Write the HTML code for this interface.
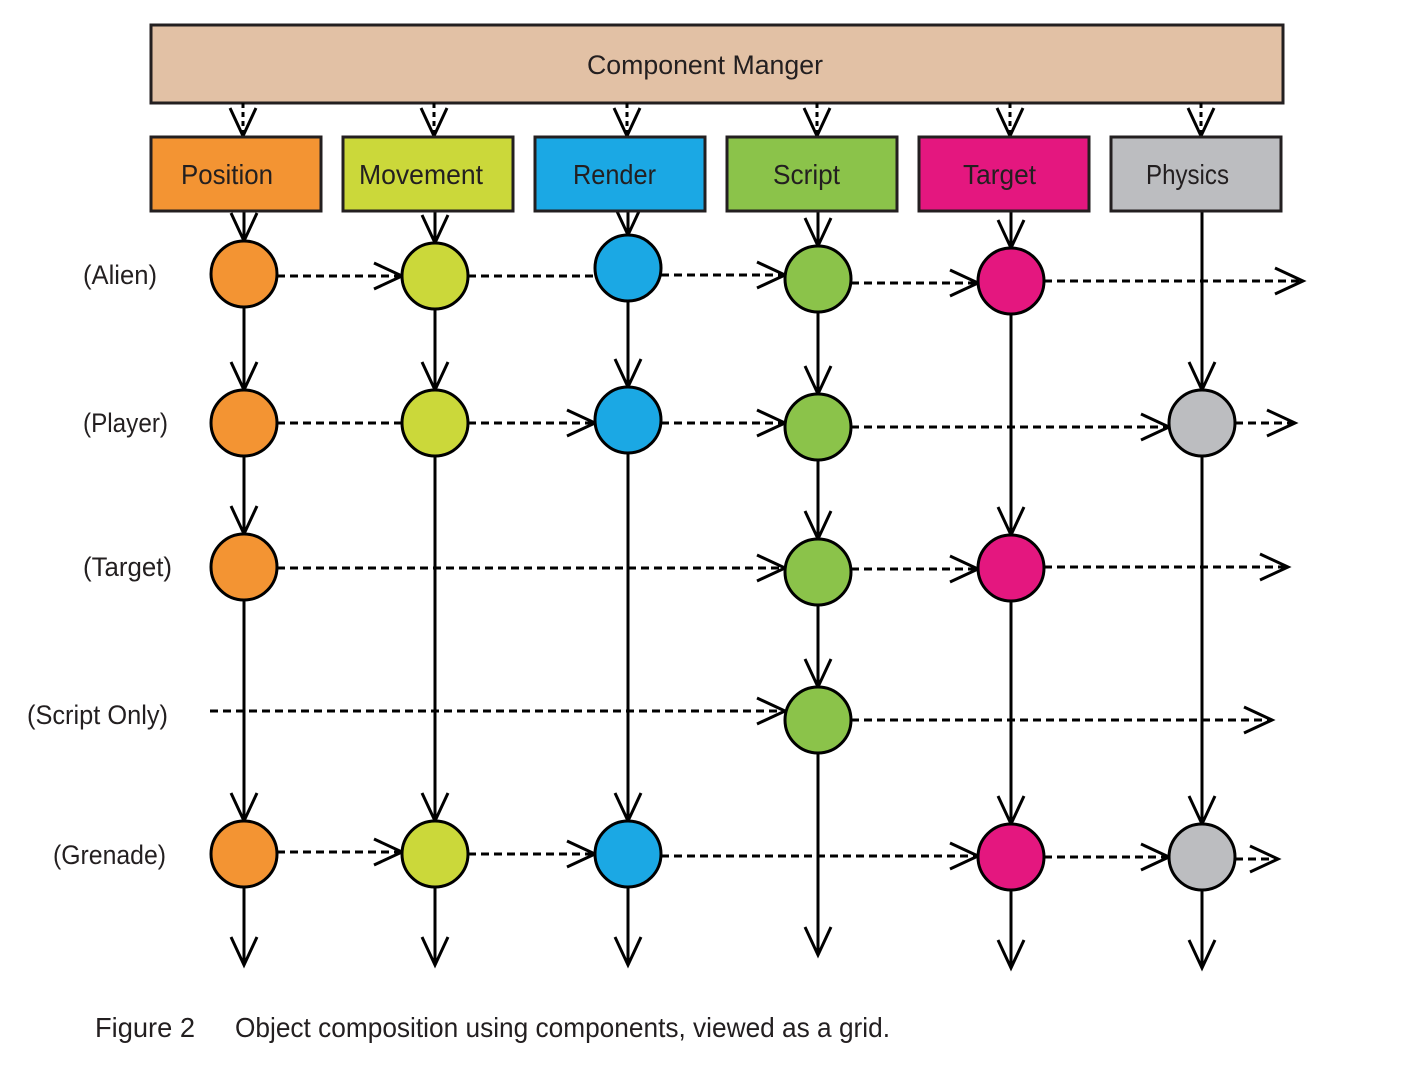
<!DOCTYPE html>
<html><head><meta charset="utf-8">
<style>
html,body{margin:0;padding:0;background:#fff;}
svg{display:block;}
text{font-family:"Liberation Sans Narrow","Liberation Sans",sans-serif;fill:#231f20;}
</style></head>
<body>
<svg id="d" width="1418" height="1086" viewBox="0 0 1418 1086" xmlns="http://www.w3.org/2000/svg">
<rect x="151" y="25" width="1132" height="78" fill="#e2c1a5" stroke="#231f20" stroke-width="3"/>
<text x="705" y="74" font-size="27" text-anchor="middle" textLength="236" lengthAdjust="spacingAndGlyphs">Component Manger</text>
<g id="g"></g>
<text x="95" y="1037" font-size="28" textLength="100" lengthAdjust="spacingAndGlyphs">Figure 2</text>
<text x="235" y="1037" font-size="28" textLength="655" lengthAdjust="spacingAndGlyphs">Object composition using components, viewed as a grid.</text>
</svg>
<script>
const components = ["Position","Movement","Render","Script","Target","Physics"];
const colors = ["#f39433","#cbd83a","#1ba8e4","#8bc34a","#e4177f","#bcbdc0"];
const colX = [244,435,628,818,1011,1202];
const compLabelX = [181,359,573,773,963,1146];
const compLabelW = [92,124,83,67,73,83];
const rows = ["(Alien)","(Player)","(Target)","(Script Only)","(Grenade)"];
const labelX = [83,83,83,27,53];
const labelW = [74,85,89,141,113];
const rowY = [275,423,567,715,855];
const nodes = [
  [274,276,268,279,281,null],
  [423,423,420,427,null,423],
  [567,null,null,572,568,null],
  [null,null,null,720,null,null],
  [854,854,854,null,857,857]
];
// dashed links per row: [fromCol(-1=start), toCol(6=end), arrow, y]
const links = [
  [[0,1,1,276],[1,2,0,276],[2,3,1,275],[3,4,1,283],[4,6,1,281]],
  [[0,1,0,423],[1,2,1,423],[2,3,1,423],[3,5,1,427],[5,6,1,423]],
  [[0,3,1,568],[3,4,1,569],[4,6,1,567]],
  [[-1,3,1,711],[3,6,1,720]],
  [[0,1,1,852],[1,2,1,854],[2,4,1,856],[4,5,1,857],[5,6,1,859]]
];
const rowEndX = [1303,1295,1288,1272,1278];
const colBottom = [965,965,965,955,968,968];
const R = 33;
const NS = "http://www.w3.org/2000/svg";
const g = document.getElementById('g');
function el(t, a, p){const e=document.createElementNS(NS,t);for(const k in a)e.setAttribute(k,a[k]);(p||g).appendChild(e);return e;}
function head(x,y,dx,dy,name){
  const L=28,W=13;
  const bx=x-dx*L, by=y-dy*L, px=-dy, py=dx;
  const e=el('path',{d:`M${bx+px*W},${by+py*W} L${x},${y} L${bx-px*W},${by-py*W}`,fill:'none',stroke:'#000','stroke-width':3,'stroke-linejoin':'miter'});
  
  
}
components.forEach((c,i)=>{
  const x=colX[i]-1;
  const l=el('line',{x1:x,y1:103,x2:x,y2:136,stroke:'#000','stroke-width':3,'stroke-dasharray':'5 4'});
  
  
  head(x,136,0,1,'manager-arrow-'+c.toLowerCase());
});
components.forEach((c,i)=>{
  const x=colX[i];
  const ys=nodes.map(r=>r[i]).filter(v=>v!==null);
  let prev=211;
  ys.forEach((y)=>{
    const l=el('line',{x1:x,y1:prev,x2:x,y2:y-R,stroke:'#000','stroke-width':3});
    
    
    head(x,y-R,0,1,'column-arrow-'+c.toLowerCase());
    prev=y+R;
  });
  const l=el('line',{x1:x,y1:prev,x2:x,y2:colBottom[i],stroke:'#000','stroke-width':3});
  
  
  head(x,colBottom[i],0,1,'column-end-arrow-'+c.toLowerCase());
});
rows.forEach((r,ri)=>{
  links[ri].forEach(([a,b,ar,y])=>{
    const x1 = a<0 ? 210 : colX[a]+R;
    const x2 = b>5 ? rowEndX[ri] : colX[b]-R;
    const l=el('line',{x1,y1:y,x2,y2:y,stroke:'#000','stroke-width':3,'stroke-dasharray':'8 5'});
    
    
    if(ar){head(x2,y,1,0,'row-link-arrow');}
  });
  const t=el('text',{x:labelX[ri],y:rowY[ri]+9,'font-size':27,textLength:labelW[ri],lengthAdjust:'spacingAndGlyphs'});
  t.textContent=r;
  
  
});
rows.forEach((r,ri)=>{
  nodes[ri].forEach((y,ci)=>{
    if(y===null)return;
    const c=el('circle',{cx:colX[ci],cy:y,r:R,fill:colors[ci],stroke:'#000','stroke-width':3});
    
    
  });
});
components.forEach((c,i)=>{
  const x=151+i*192;
  const b=el('rect',{x:x,y:137,width:170,height:74,fill:colors[i],stroke:'#231f20','stroke-width':3});
  
  
  const t=el('text',{x:compLabelX[i],y:184,'font-size':28,textLength:compLabelW[i],lengthAdjust:'spacingAndGlyphs'});
  t.textContent=c;
  
  
});
</script>
</body></html>
